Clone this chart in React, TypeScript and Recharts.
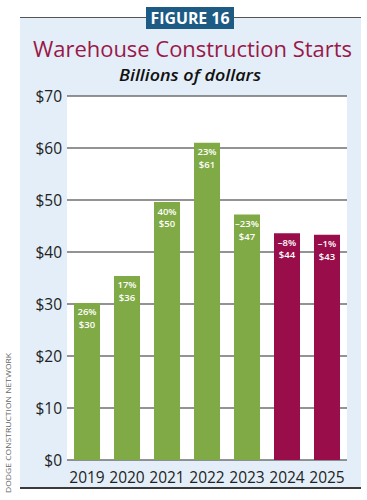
import { Bar, BarChart, CartesianGrid, Cell, LabelList, XAxis, YAxis } from "recharts";

const YEARS = ["2019", "2020", "2021", "2022", "2023", "2024", "2025"];
const STARTS = [30.2, 35.4, 49.6, 61.0, 47.2, 43.6, 43.3];
const CHANGE_LABELS = ["26%", "17%", "40%", "23%", "–23%", "–8%", "–1%"];
const VALUE_LABELS = ["$30", "$36", "$50", "$61", "$47", "$44", "$43"];
const FORECAST_YEARS = ["2024", "2025"];
const Y_TICKS = [0, 10, 20, 30, 40, 50, 60, 70];

const GREEN = "#80aa45";
const CRIMSON = "#990d4b";
const FONT = "'Open Sans', 'Noto Sans', sans-serif";

const data = YEARS.map((year, i) => ({
  year,
  value: STARTS[i],
}));

// two stacked white labels just under the bar cap
function CapLabel(props: any) {
  const { x, y, width, index } = props;
  const cx = Number(x) + Number(width) / 2;
  const top = Number(y);
  return (
    <g fontFamily={FONT} fontSize={9.5} fontWeight={600} fill="#fff" textAnchor="middle">
      <text x={cx} y={top + 12.5}>{CHANGE_LABELS[index]}</text>
      <text x={cx} y={top + 25}>{VALUE_LABELS[index]}</text>
    </g>
  );
}

export default function App() {
  return (
    <div style={{ position: "absolute", left: 0, top: 0, width: 367, height: 500, background: "#fff" }}>
      <div
        style={{
          position: "absolute",
          left: 20,
          top: 17,
          width: 341,
          height: 469,
          background: "#e3eef8",
          borderTop: "1.5px solid #555",
          borderBottom: "2px solid #3a3a3a",
        }}
      />
      <div style={{ position: "absolute", left: 0, top: 0 }}>
        <BarChart width={367} height={500} data={data} margin={{ top: 96, right: 20, bottom: 18, left: 20 }}>
          <CartesianGrid vertical={false} fill="#fff" stroke="#6f6f6f" strokeWidth={1.5} />
          <XAxis
            dataKey="year"
            height={22}
            axisLine={false}
            tickLine={false}
            tickMargin={6}
            interval={0}
            tick={{ fill: "#222", fontSize: 15.5, fontFamily: FONT }}
          />
          <YAxis
            width={47}
            domain={[0, 70]}
            ticks={Y_TICKS}
            axisLine={false}
            tickLine={false}
            tickSize={5}
            tickMargin={0}
            tickFormatter={(v) => `$${v}`}
            tick={{ fill: "#222", fontSize: 15.5, fontFamily: FONT }}
          />
          <Bar dataKey="value" barSize={26} isAnimationActive={false}>
            {data.map((d) => (
              <Cell key={d.year} fill={FORECAST_YEARS.includes(d.year) ? CRIMSON : GREEN} />
            ))}
            <LabelList dataKey="value" content={CapLabel} />
          </Bar>
        </BarChart>
      </div>
      <svg width={367} height={500} style={{ position: "absolute", left: 0, top: 0, pointerEvents: "none" }}>
        <rect x={146} y={7} width={88} height={22} fill="#1d5a84" />
        <text
          x={190}
          y={24}
          textAnchor="middle"
          fill="#fff"
          fontFamily={FONT}
          fontWeight={700}
          fontSize={15.5}
          textLength={79}
          lengthAdjust="spacingAndGlyphs"
        >
          FIGURE 16
        </text>
        <text
          x={192.5}
          y={57}
          textAnchor="middle"
          fill="#9a1848"
          fontFamily={FONT}
          fontSize={22.5}
          textLength={319}
          lengthAdjust="spacingAndGlyphs"
        >
          Warehouse Construction Starts
        </text>
        <text
          x={190}
          y={81}
          textAnchor="middle"
          fill="#111"
          fontFamily={FONT}
          fontStyle="italic"
          fontWeight={600}
          fontSize={17}
          textLength={142}
          lengthAdjust="spacingAndGlyphs"
        >
          Billions of dollars
        </text>
        <text
          transform="translate(10.5 423) rotate(-90)"
          textAnchor="middle"
          fill="#666"
          fontFamily={FONT}
          fontSize={8}
          textLength={140}
          lengthAdjust="spacingAndGlyphs"
        >
          DODGE CONSTRUCTION NETWORK
        </text>
      </svg>
    </div>
  );
}
